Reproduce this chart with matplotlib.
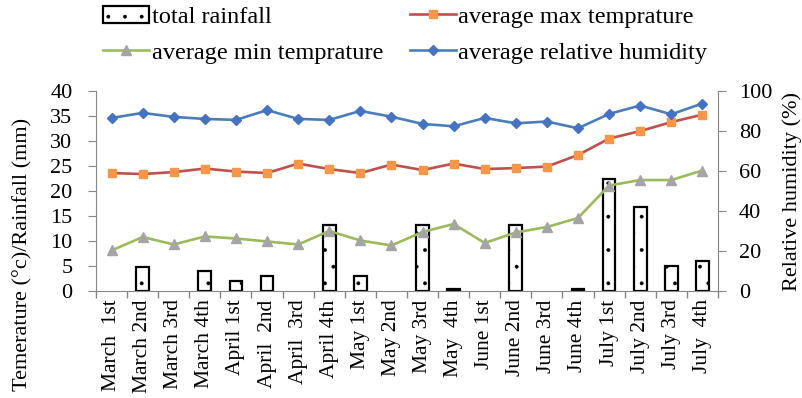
import matplotlib.pyplot as plt
import numpy as np
from matplotlib.lines import Line2D
from matplotlib.patches import Patch

plt.rcParams['font.family'] = ['Liberation Serif', 'DejaVu Serif']
plt.rcParams['hatch.linewidth'] = 0.3

periods = ['March  1st', 'March 2nd', 'March 3rd', 'March 4th', 'April 1st',
           'April  2nd', 'April  3rd', 'April 4th', 'May 1st', 'May 2nd',
           'May 3rd', 'May  4th', 'June 1st', 'June 2nd', 'June 3rd',
           'June 4th', 'July 1st', 'July 2nd', 'July 3rd', 'July  4th']

rainfall = [0, 4.7, 0, 3.9, 1.9, 2.95, 0, 13.3, 2.95, 0,
            13.3, 0.3, 0, 13.3, 0, 0.3, 22.4, 16.75, 4.96, 6.0]
max_temp = [23.6, 23.4, 23.8, 24.5, 23.9, 23.6, 25.5, 24.4, 23.6, 25.3,
            24.2, 25.5, 24.4, 24.6, 24.9, 27.2, 30.5, 32.0, 33.8, 35.3]
min_temp = [8.1, 10.8, 9.3, 10.9, 10.5, 9.9, 9.3, 12.0, 10.1, 9.1,
            11.8, 13.4, 9.6, 11.7, 12.8, 14.6, 21.1, 22.2, 22.2, 24.1]
humidity = [86.6, 89.1, 87.1, 86.1, 85.6, 90.5, 86.1, 85.6, 90.1, 87.2,
            83.6, 82.4, 86.6, 83.9, 84.8, 81.4, 88.6, 92.8, 88.4, 93.8]

axis_gray = '#868686'
x = np.arange(len(periods))
rain = np.array(rainfall)
wet = rain > 0  # zero-rain weeks show no bar at all

fig = plt.figure(figsize=(8.03, 3.98), dpi=100)
ax = fig.add_axes([0.1196, 0.269, 0.7744, 0.502])
ax2 = ax.twinx()

ax.bar(x[wet], rain[wet], width=0.41, color='white', edgecolor='black',
       linewidth=1.6, hatch='.', zorder=2)
ax.plot(x, max_temp, color='#C0504D', lw=1.9, marker='s', ms=6,
        mfc='#F79646', mec='#F79646', zorder=3)
ax.plot(x, min_temp, color='#9BBB59', lw=1.9, marker='^', ms=7.5,
        mfc='#A5A5A5', mec='#A5A5A5', zorder=3)
ax2.plot(x, humidity, color='#4A7EBB', lw=1.9, marker='D', ms=5.5,
         mfc='#4472C4', mec='#4472C4', zorder=3)

ax.set_xlim(-0.5, len(periods) - 0.5)
ax.set_ylim(0, 40)
ax.set_yticks(range(0, 41, 5))
ax2.set_ylim(0, 100)
ax2.set_yticks(range(0, 101, 20))

ax.set_xticks(x)
ax.set_xticklabels(periods, rotation=90, fontsize=15.5)
ax.set_xticks(np.arange(-0.5, len(periods), 1), minor=True)
ax.tick_params(axis='x', which='major', length=0, pad=6)
ax.tick_params(axis='x', which='minor', length=5, color=axis_gray, width=1)
ax.tick_params(axis='y', labelsize=16, length=6, color=axis_gray, pad=11)
ax2.tick_params(axis='y', labelsize=16, length=6, color=axis_gray, pad=9)

for a in (ax, ax2):
    a.spines['top'].set_visible(False)
    for s in ('left', 'right', 'bottom'):
        a.spines[s].set_color(axis_gray)
ax.spines['right'].set_visible(False)
ax2.spines['left'].set_visible(False)
ax2.spines['bottom'].set_visible(False)

ax.set_ylabel('Temerature (\u00b0c)/Rainfall (mm)', fontsize=16)
ax.yaxis.set_label_coords(-0.103, 0.185)
ax2.set_ylabel('Relative humidity (%)', fontsize=16)
ax2.yaxis.set_label_coords(1.103, 0.5)

handles = [
    Patch(facecolor='white', edgecolor='black', hatch='.', linewidth=1.6),
    Line2D([], [], color='#9BBB59', lw=1.9, marker='^', ms=7.5,
           mfc='#A5A5A5', mec='#A5A5A5'),
    Line2D([], [], color='#C0504D', lw=1.9, marker='s', ms=6,
           mfc='#F79646', mec='#F79646'),
    Line2D([], [], color='#4A7EBB', lw=1.9, marker='D', ms=5.5,
           mfc='#4472C4', mec='#4472C4'),
]
labels = ['total rainfall', 'average min temprature',
          'average max temprature', 'average relative humidity']
fig.legend(handles, labels, ncol=2, loc='upper left',
           bbox_to_anchor=(103 / 803, 0.985), frameon=False, fontsize=17.5,
           borderpad=0, borderaxespad=0, handlelength=1.9,
           handletextpad=0.1, columnspacing=1.1, labelspacing=0.56)

fig.savefig('out.png', dpi=100)
